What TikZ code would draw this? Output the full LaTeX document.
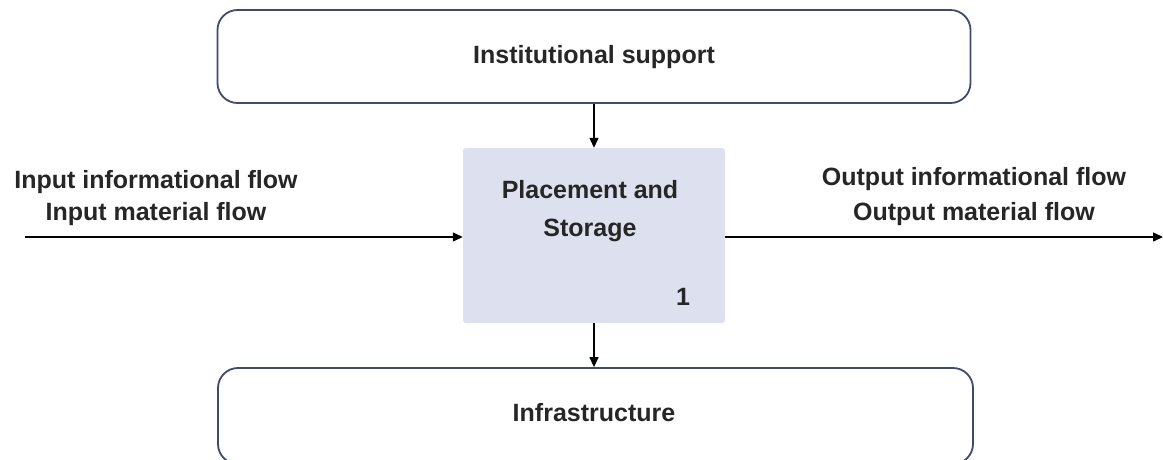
\documentclass[tikz,border=0pt]{standalone}
\usepackage{fontspec}
\setmainfont{Liberation Sans}
\usetikzlibrary{arrows.meta}
\definecolor{boxline}{HTML}{3F4B6E}
\definecolor{boxfill}{HTML}{DDE1EF}
\tikzset{
  roundbox/.style={draw=boxline, line width=1.8pt, rounded corners=20pt, fill=white, inner sep=0pt},
  procbox/.style={fill=boxfill, rounded corners=3pt, inner sep=0pt},
  lbl/.style={font=\fontsize{25}{32}\selectfont\bfseries, text=black!85, inner sep=0pt, align=center},
  flow/.style={line width=1.3pt, -{Triangle[length=10pt,width=9pt]}},
}
\begin{document}
\begin{tikzpicture}[x=1pt,y=-1pt]
\useasboundingbox (0,0) rectangle (1163,459);
\begin{scope}
\clip (0,0) rectangle (1163,459);
\node[roundbox, minimum width=753pt, minimum height=93pt] (top) at (594,56.5) {};
\node[roundbox, minimum width=755pt, minimum height=96pt] (bot) at (595.5,416) {};
\end{scope}
\node[lbl] (toptext) at (594,57) {Institutional support};
\node[lbl] (bottext) at (594,413) {Infrastructure};
\node[procbox, minimum width=262pt, minimum height=175pt] (proc) at (594,235.5) {};
\node[lbl, font=\fontsize{25}{38}\selectfont\bfseries] (proctext) at (590,211) {Placement and\\Storage};
\node[lbl] (num) at (683,297) {1};
\node[lbl] (intext) at (156,198) {Input informational flow\\Input material flow};
\node[lbl, font=\fontsize{25}{35}\selectfont\bfseries] (outtext) at (974,197) {Output informational flow\\Output material flow};
\coordinate (in) at (25,237);
\coordinate (out) at (1163,237);
\draw[flow] (top.south -| proc.north) -- (proc.north);
\draw[flow] (proc.south) -- (proc.south |- bot.north);
\draw[flow] (in) -- (proc.west |- in);
\draw[flow] (proc.east |- out) -- (out);
\end{tikzpicture}
\end{document}
